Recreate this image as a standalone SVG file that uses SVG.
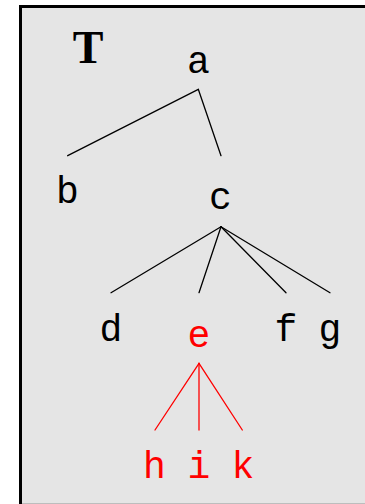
<svg xmlns="http://www.w3.org/2000/svg" width="365" height="504" viewBox="0 0 365 504">
  <style>
    .lbl { font-family: "Liberation Mono", "Courier New", monospace; font-size: 38px; text-anchor: middle; fill: #000; }
    .lbl.hi { fill: #ff0000; }
    .title { font-family: "Liberation Serif", "Times New Roman", serif; font-weight: bold; font-size: 46px; text-anchor: middle; fill: #000; }
    .edge { stroke: #000; stroke-width: 1.3; fill: none; stroke-linecap: round; }
    .edge.hi { stroke: #ff0000; }
  </style>

  <!-- panel -->
  <rect x="22" y="8" width="343" height="495" fill="#e5e5e5"/>
  <line x1="20" y1="503.5" x2="365" y2="503.5" stroke="#bdbdbd" stroke-width="1"/>
  <path d="M20.5,504 V6.5 H365" fill="none" stroke="#000" stroke-width="3"/>

  <text class="title" x="88" y="62.5">T</text>

  <!-- connectors -->
  <g id="edges">
    <line class="edge" x1="198.3" y1="89.3" x2="67.7" y2="155.7"/>
    <line class="edge" x1="198.3" y1="89.3" x2="221" y2="155.7"/>
    <line class="edge" x1="221" y1="226.7" x2="111" y2="292.7"/>
    <line class="edge" x1="221" y1="226.7" x2="199" y2="292.7"/>
    <line class="edge" x1="221" y1="226.7" x2="286" y2="292.7"/>
    <line class="edge" x1="221" y1="226.7" x2="330" y2="292.7"/>
    <line class="edge hi" x1="199" y1="363.3" x2="155" y2="430"/>
    <line class="edge hi" x1="199" y1="363.3" x2="199" y2="430"/>
    <line class="edge hi" x1="199" y1="363.3" x2="242.3" y2="430"/>
  </g>

  <!-- nodes -->
  <g id="node-a"><text class="lbl" x="198.5" y="73">a</text></g>
  <g id="node-b"><text class="lbl" x="67.5" y="203">b</text></g>
  <g id="node-c"><text class="lbl" x="220.5" y="209">c</text></g>
  <g id="node-d"><text class="lbl" x="111" y="341">d</text></g>
  <g id="node-e"><text class="lbl hi" x="199" y="347">e</text></g>
  <g id="node-f"><text class="lbl" x="286" y="341">f</text></g>
  <g id="node-g"><text class="lbl" x="330" y="341">g</text></g>
  <g id="node-h"><text class="lbl hi" x="154.5" y="478">h</text></g>
  <g id="node-i"><text class="lbl hi" x="199" y="478">i</text></g>
  <g id="node-k"><text class="lbl hi" x="243" y="478">k</text></g>
</svg>
